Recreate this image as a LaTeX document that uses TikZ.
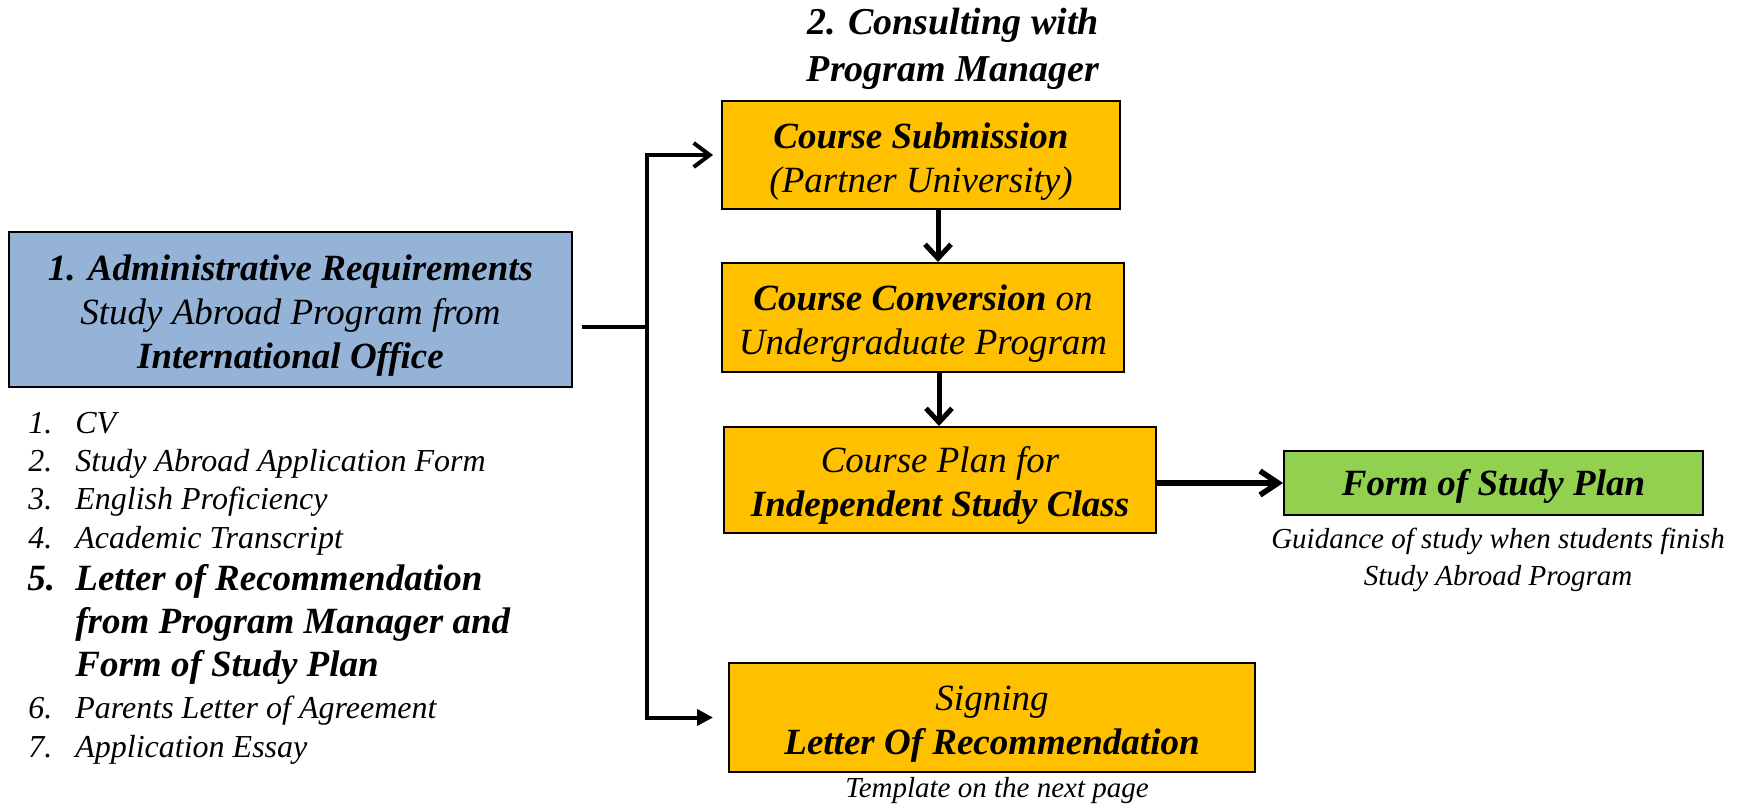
\documentclass[tikz,border=0pt]{standalone}
\usepackage{fontspec}
\setmainfont{Liberation Serif}
\usetikzlibrary{arrows.meta}
\definecolor{boxblue}{HTML}{95B3D7}
\definecolor{boxorange}{HTML}{FFC000}
\definecolor{boxgreen}{HTML}{92D050}
\tikzset{
  box/.style={draw=black, line width=1pt, inner sep=0pt},
  boxtext/.style={inner sep=0pt, align=center, font=\fontsize{18.5}{22}\selectfont\itshape},
  bluebox/.style={box, fill=boxblue},
  orangebox/.style={box, fill=boxorange},
  greenbox/.style={box, fill=boxgreen},
  title/.style={inner sep=0pt, align=center, font=\fontsize{19}{23.5}\selectfont\itshape\bfseries},
  caption/.style={inner sep=0pt, align=center, font=\fontsize{14.5}{18.5}\selectfont\itshape},
  smallitem/.style={inner sep=0pt, anchor=base west, font=\fontsize{16}{19}\selectfont\itshape},
  bigitem/.style={inner sep=0pt, anchor=base west, font=\fontsize{18.5}{22}\selectfont\itshape\bfseries},
  trunk/.style={line width=2pt},
  toparrow/.style={line width=2pt, -{Straight Barb[length=8pt,width=12pt,line width=2pt]}},
  botarrow/.style={line width=2pt, -{Triangle[length=8pt,width=8pt]}},
  downarrow/.style={line width=2.5pt, -{Straight Barb[length=7pt,width=13pt,line width=2.5pt]}},
  rightarrow/.style={line width=2.75pt, -{Straight Barb[length=9pt,width=12pt,line width=2.75pt]}},
}
\begin{document}
\begin{tikzpicture}[x=0.5pt,y=-0.5pt]
\useasboundingbox (0,0) rectangle (1742,808);

% title
\node[title] (ttl) at (953,49) {2. Consulting with\\Program Manager};

% boxes
\node[bluebox, minimum width=281.5pt, minimum height=77.5pt] (blue) at (290.5,309.5) {};
\node[boxtext] (bluet) at ([yshift=-3.3pt]blue.center)
  {\textbf{1. Administrative Requirements}\\Study Abroad Program from\\\textbf{International Office}};
\node[orangebox, minimum width=199pt, minimum height=54pt] (cs) at (921,155) {};
\node[boxtext] (cst) at ([yshift=-3.3pt]cs.center)
  {\textbf{Course Submission}\\(Partner University)};
\node[orangebox, minimum width=201pt, minimum height=54.5pt] (cc) at (923,317.5) {};
\node[boxtext] (cct) at ([yshift=-3.3pt]cc.center)
  {\textbf{Course Conversion} on\\Undergraduate Program};
\node[orangebox, minimum width=216pt, minimum height=53pt] (cp) at (940,480) {};
\node[boxtext] (cpt) at ([yshift=-2.8pt]cp.center)
  {Course Plan for\\\textbf{Independent Study Class}};
\node[greenbox, minimum width=209.5pt, minimum height=32pt] (green) at (1493.5,483) {};
\node[boxtext] (greent) at ([yshift=-1.7pt]green.center) {\textbf{Form of Study Plan}};
\node[orangebox, minimum width=263pt, minimum height=54.5pt] (sign) at (992,717.5) {};
\node[boxtext] (signt) at ([yshift=-3.5pt]sign.center)
  {Signing\\\textbf{Letter Of Recommendation}};

% captions
\node[caption] (guide) at (1498,560) {Guidance of study when students finish\\Study Abroad Program};
\node[caption] (tmpl) at (997,791) {Template on the next page};

% list
\node[smallitem] (n1) at (28,433) {1.};
\node[smallitem] (t1) at (75,433) {CV};
\node[smallitem] (n2) at (28,471) {2.};
\node[smallitem] (t2) at (75,471) {Study Abroad Application Form};
\node[smallitem] (n3) at (28,509) {3.};
\node[smallitem] (t3) at (75,509) {English Proficiency};
\node[smallitem] (n4) at (28,548) {4.};
\node[smallitem] (t4) at (75,548) {Academic Transcript};
\node[bigitem] (n5) at (27,590) {5.};
\node[bigitem] (t5a) at (75,590) {Letter of Recommendation};
\node[bigitem] (t5b) at (75,633) {from Program Manager and};
\node[bigitem] (t5c) at (75,676) {Form of Study Plan};
\node[smallitem] (n6) at (28,718) {6.};
\node[smallitem] (t6) at (75,718) {Parents Letter of Agreement};
\node[smallitem] (n7) at (28,757) {7.};
\node[smallitem] (t7) at (75,757) {Application Essay};

% connectors
\coordinate (j) at (647,327);
\draw[trunk] ([xshift=4.5pt]blue.east |- j) -- (j);
\draw[toparrow] (j) |- ([xshift=-4pt]cs.west);
\draw[botarrow] (j) |- ([xshift=-7.5pt]sign.west);
\draw[downarrow] ([xshift=8.5pt]cs.south) -- ([xshift=7.5pt]cc.north);
\draw[downarrow] ([xshift=8pt]cc.south) -- ([xshift=-0.5pt]cp.north);
\draw[rightarrow] (cp.east |- green.west) -- (green.west);
\end{tikzpicture}
\end{document}
